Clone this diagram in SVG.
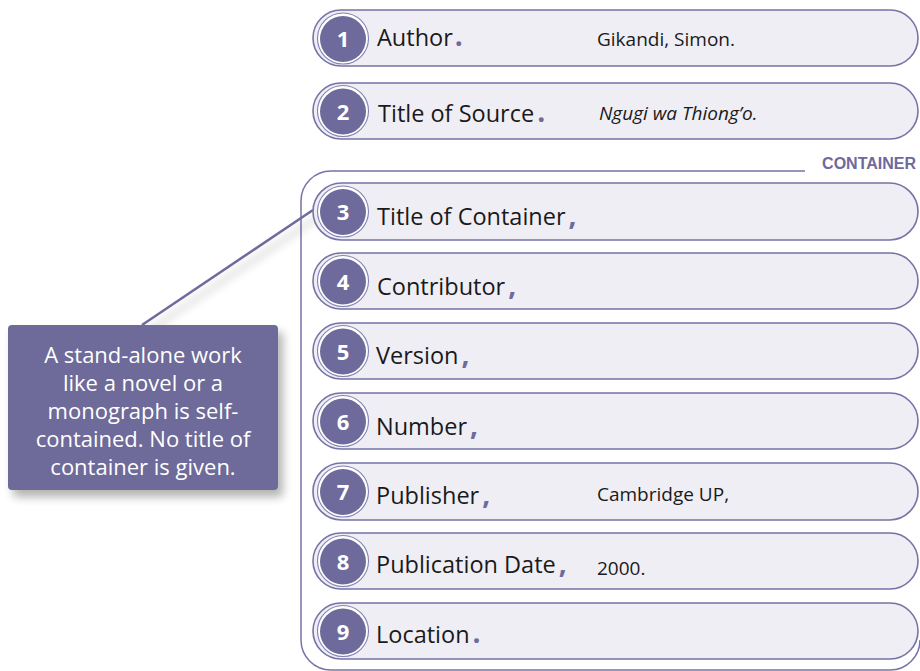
<svg xmlns="http://www.w3.org/2000/svg" width="920" height="671" viewBox="0 0 920 671">
<style>
.pill{fill:#efeef5;stroke:#7673a6;stroke-width:1.6}
.ring{fill:#ffffff;stroke:#8481b0;stroke-width:1.1}
.badge{fill:#6e6a9b}
.num{font-family:"Open Sans",sans-serif;font-weight:bold;font-size:22px;fill:#ffffff;text-anchor:middle}
.lbl{font-family:"Open Sans",sans-serif;font-size:23.5px;fill:#1a1a1a}
.p{fill:#6e6a9b;font-weight:bold;font-size:28px}
.val{font-family:"Open Sans",sans-serif;font-size:19px;fill:#1a1a1a}
.frame{fill:none;stroke:#7673a6;stroke-width:1.5}
.cap{font-family:"Liberation Sans",sans-serif;font-weight:bold;font-size:16px;fill:#6e6a9b;text-anchor:end}
.note{font-family:"Open Sans",sans-serif;font-size:22px;fill:#ffffff;text-anchor:middle}
</style>
<defs>
<filter id="sh" x="-20%" y="-20%" width="150%" height="160%">
<feGaussianBlur in="SourceAlpha" stdDeviation="5"/>
<feOffset dx="5" dy="7" result="b"/>
<feComponentTransfer><feFuncA type="linear" slope="0.3"/></feComponentTransfer>
<feMerge><feMergeNode/><feMergeNode in="SourceGraphic"/></feMerge>
</filter>
</defs>
<rect width="920" height="671" fill="#ffffff"/>

<g id="container-frame">
<path class="frame" d="M805,171 H331 A30,30 0 0 0 301,201 V640 A30,30 0 0 0 331,670 H890 A30,30 0 0 0 920,640"/>
<text class="cap" x="916" y="169">CONTAINER</text>
</g>

<g id="connectors">
<line x1="142" y1="325" x2="313" y2="210" stroke="#6e6a9b" stroke-width="2.5" filter="url(#sh)"/>
</g>

<g id="callout">
<rect x="8" y="325" width="270" height="165" rx="4" fill="#6e6a99" filter="url(#sh)"/>
<text class="note" x="143" y="363">A stand-alone work</text>
<text class="note" x="143" y="391">like a novel or a</text>
<text class="note" x="143" y="419">monograph is self-</text>
<text class="note" x="143" y="447">contained. No title of</text>
<text class="note" x="143" y="475">container is given.</text>
</g>

<g id="n1">
<rect class="pill" x="313" y="10" width="605" height="56" rx="28"/>
<circle class="ring" cx="343" cy="38.5" r="25.5"/>
<circle class="badge" cx="343" cy="39" r="23"/>
<text class="num" x="343" y="47">1</text>
<text class="lbl" x="377" y="45.5">Author<tspan class="p" dx="2">.</tspan></text>
<text class="val" x="597" y="46">Gikandi, Simon.</text>
</g>

<g id="n2">
<rect class="pill" x="313" y="83" width="605" height="56" rx="28"/>
<circle class="ring" cx="343" cy="111" r="25.5"/>
<circle class="badge" cx="343" cy="111.5" r="23"/>
<text class="num" x="343" y="119.5">2</text>
<text class="lbl" x="378" y="121.5">Title of Source<tspan class="p" dx="3">.</tspan></text>
<text class="val" x="599" y="120" font-style="italic">Ngugi wa Thiong’o.</text>
</g>

<g id="n3">
<rect class="pill" x="313" y="183" width="605" height="57" rx="28.5"/>
<circle class="ring" cx="343" cy="211.5" r="25.5"/>
<circle class="badge" cx="343" cy="212" r="23"/>
<text class="num" x="343" y="220">3</text>
<text class="lbl" x="377" y="224.5">Title of Container<tspan class="p" dx="3">,</tspan></text>
</g>

<g id="n4">
<rect class="pill" x="313" y="253" width="605" height="56" rx="28"/>
<circle class="ring" cx="343" cy="281" r="25.5"/>
<circle class="badge" cx="343" cy="281.5" r="23"/>
<text class="num" x="343" y="289.5">4</text>
<text class="lbl" x="377" y="294.5">Contributor<tspan class="p" dx="3">,</tspan></text>
</g>

<g id="n5">
<rect class="pill" x="313" y="323" width="605" height="56" rx="28"/>
<circle class="ring" cx="343" cy="351" r="25.5"/>
<circle class="badge" cx="343" cy="351.5" r="23"/>
<text class="num" x="343" y="359.5">5</text>
<text class="lbl" x="376" y="363.5">Version<tspan class="p" dx="3">,</tspan></text>
</g>

<g id="n6">
<rect class="pill" x="313" y="393" width="605" height="56" rx="28"/>
<circle class="ring" cx="343" cy="421" r="25.5"/>
<circle class="badge" cx="343" cy="421.5" r="23"/>
<text class="num" x="343" y="429.5">6</text>
<text class="lbl" x="376" y="434.5">Number<tspan class="p" dx="3">,</tspan></text>
</g>

<g id="n7">
<rect class="pill" x="313" y="463" width="605" height="57" rx="28.5"/>
<circle class="ring" cx="343" cy="491.5" r="25.5"/>
<circle class="badge" cx="343" cy="492" r="23"/>
<text class="num" x="343" y="500">7</text>
<text class="lbl" x="376" y="503.5">Publisher<tspan class="p" dx="3">,</tspan></text>
<text class="val" x="597" y="501">Cambridge UP,</text>
</g>

<g id="n8">
<rect class="pill" x="313" y="533" width="605" height="56" rx="28"/>
<circle class="ring" cx="343" cy="561" r="25.5"/>
<circle class="badge" cx="343" cy="561.5" r="23"/>
<text class="num" x="343" y="569.5">8</text>
<text class="lbl" x="376" y="572.5">Publication Date<tspan class="p" dx="3">,</tspan></text>
<text class="val" x="597" y="575">2000.</text>
</g>

<g id="n9">
<rect class="pill" x="313" y="603" width="605" height="56" rx="28"/>
<circle class="ring" cx="343" cy="631" r="25.5"/>
<circle class="badge" cx="343" cy="631.5" r="23"/>
<text class="num" x="343" y="639.5">9</text>
<text class="lbl" x="376" y="642.5">Location<tspan class="p" dx="3">.</tspan></text>
</g>
</svg>
